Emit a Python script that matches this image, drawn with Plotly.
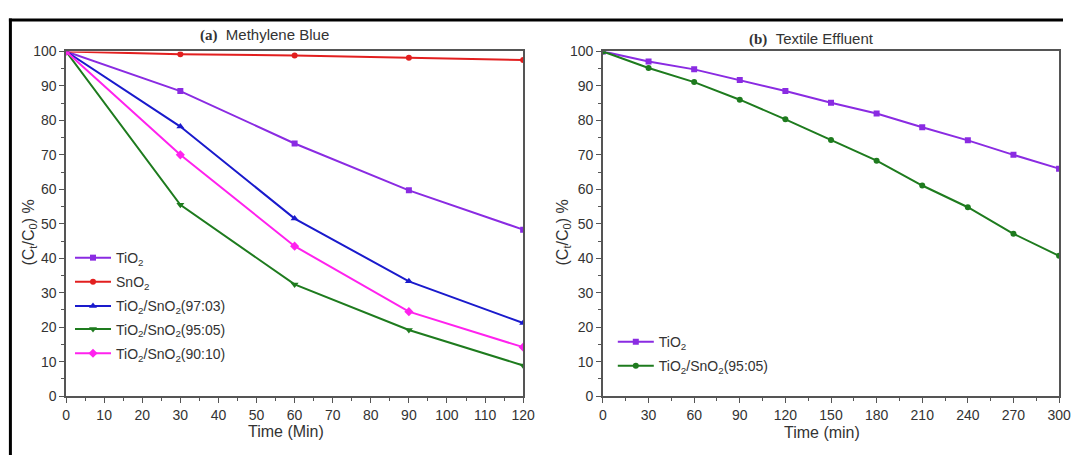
import plotly.graph_objects as go

# Panel (a) Methylene Blue
time_a = [0, 30, 60, 90, 120]
mb_tio2 = [100, 88.5, 73.3, 59.7, 48.3]
mb_sno2 = [100, 99.2, 98.8, 98.2, 97.5]
mb_9703 = [100, 78.2, 51.5, 33.3, 21.2]
mb_9505 = [100, 55.5, 32.4, 19.2, 8.9]
mb_9010 = [100, 70.0, 43.5, 24.5, 14.2]

# Panel (b) Textile Effluent
time_b = [0, 30, 60, 90, 120, 150, 180, 210, 240, 270, 300]
te_tio2 = [100, 97.1, 94.8, 91.7, 88.5, 85.1, 82.0, 78.0, 74.2, 70.0, 66.0]
te_9505 = [100, 95.2, 91.1, 86.0, 80.3, 74.3, 68.3, 61.1, 54.8, 47.1, 40.7]

PURPLE = "#8A2BE2"
RED = "#E21F1F"
BLUE = "#1A1ACC"
GREEN = "#1E7B1E"
MAGENTA = "#FF22EE"

FONT = "Liberation Sans, Arial, sans-serif"
SERIF = "Liberation Serif, Times New Roman, serif"
TXT = "#333333"
AXC = "#555555"

W, H = 1075, 463
def px_x(p):
    return p / W
def px_y(p):
    return 1 - p / H

fig = go.Figure()

# (name, x, y, color, symbol, size, xaxis, yaxis, legend row px-y, legend x px)
series = [
    ("TiO<sub>2</sub>", time_a, mb_tio2, PURPLE, "square", 6, "x", "y", 259, 67),
    ("SnO<sub>2</sub>", time_a, mb_sno2, RED, "circle", 6, "x", "y", 284, 67),
    ("TiO<sub>2</sub>/SnO<sub>2</sub>(97:03)", time_a, mb_9703, BLUE, "triangle-up", 7, "x", "y", 309, 67),
    ("TiO<sub>2</sub>/SnO<sub>2</sub>(95:05)", time_a, mb_9505, GREEN, "triangle-down", 7, "x", "y", 333, 67),
    ("TiO<sub>2</sub>/SnO<sub>2</sub>(90:10)", time_a, mb_9010, MAGENTA, "diamond", 7, "x", "y", 358, 67),
    ("TiO<sub>2</sub>", time_b, te_tio2, PURPLE, "square", 6, "x2", "y2", 346, 618),
    ("TiO<sub>2</sub>/SnO<sub>2</sub>(95:05)", time_b, te_9505, GREEN, "circle", 6, "x2", "y2", 371, 618),
]

legend_layout = {}
for i, (name, x, y, color, symbol, size, xa, ya, ly, lx) in enumerate(series):
    lname = "legend" if i == 0 else f"legend{i+1}"
    fig.add_trace(go.Scatter(
        x=x, y=y, name=name, mode="lines+markers",
        line=dict(color=color, width=2),
        marker=dict(color=color, symbol=symbol, size=size),
        xaxis=xa, yaxis=ya, legend=lname,
    ))
    legend_layout[lname] = dict(
        x=px_x(lx), y=px_y(ly), xanchor="left", yanchor="middle",
        bgcolor="rgba(0,0,0,0)", borderwidth=0, itemwidth=36,
        font=dict(family=FONT, size=14, color=TXT),
    )

axis_common = dict(
    showline=True, linecolor=AXC, linewidth=1.5, mirror=True,
    ticks="outside", ticklen=5, tickwidth=1.2, tickcolor=AXC,
    showgrid=False, zeroline=False,
    tickfont=dict(family=FONT, size=14, color=TXT),
)
minor = dict(ticks="outside", ticklen=3, tickcolor=AXC, tickwidth=1.2)

fig.update_layout(
    width=W, height=H, autosize=False,
    margin=dict(l=0, r=0, t=0, b=0),
    paper_bgcolor="white", plot_bgcolor="white",
    font=dict(family=FONT, color=TXT),
    showlegend=True,
    xaxis=dict(domain=[px_x(63), px_x(527)], range=[0, 120], dtick=10,
               minor=dict(dtick=5, **minor), anchor="y", **axis_common),
    yaxis=dict(domain=[px_y(402), px_y(45)], range=[0, 100], dtick=10,
               minor=dict(dtick=5, **minor), anchor="x", **axis_common),
    xaxis2=dict(domain=[px_x(608), px_x(1071)], range=[0, 300], dtick=30,
                minor=dict(dtick=15, **minor), anchor="y2", **axis_common),
    yaxis2=dict(domain=[px_y(402), px_y(45)], range=[0, 100], dtick=10,
                minor=dict(dtick=5, **minor), anchor="x2", **axis_common),
    **legend_layout,
)

def note(text, xp, yp, size, angle=0):
    fig.add_annotation(x=px_x(xp), y=px_y(yp), xref="paper", yref="paper", showarrow=False,
                       xanchor="center", yanchor="middle", textangle=angle,
                       text=text, font=dict(family=FONT, size=size, color=TXT))

note(f"<span style='font-family:{SERIF};font-weight:bold'>(a)</span>&nbsp;&nbsp;Methylene Blue", 264, 28, 15)
note(f"<span style='font-family:{SERIF};font-weight:bold'>(b)</span>&nbsp;&nbsp;Textile Effluent", 820, 32, 15)
note("Time (Min)", 286, 439, 16)
note("Time (min)", 830, 440, 16)
note("(C<sub>t</sub>/C<sub>0</sub>) %", 26, 233, 16, -90)
note("(C<sub>t</sub>/C<sub>0</sub>) %", 568, 233, 16, -90)

# black frame (top and left edges of the cropped figure)
fig.add_shape(type="line", xref="paper", yref="paper", x0=px_x(5), x1=1.0, y0=px_y(12.5), y1=px_y(12.5),
              line=dict(color="black", width=3))
fig.add_shape(type="line", xref="paper", yref="paper", x0=px_x(6.5), x1=px_x(6.5), y0=0, y1=px_y(11),
              line=dict(color="black", width=3))

fig.write_html(
    "out.html",
    config={"displayModeBar": False},
    post_script="document.body.style.margin='0';document.body.style.overflow='hidden';",
)
